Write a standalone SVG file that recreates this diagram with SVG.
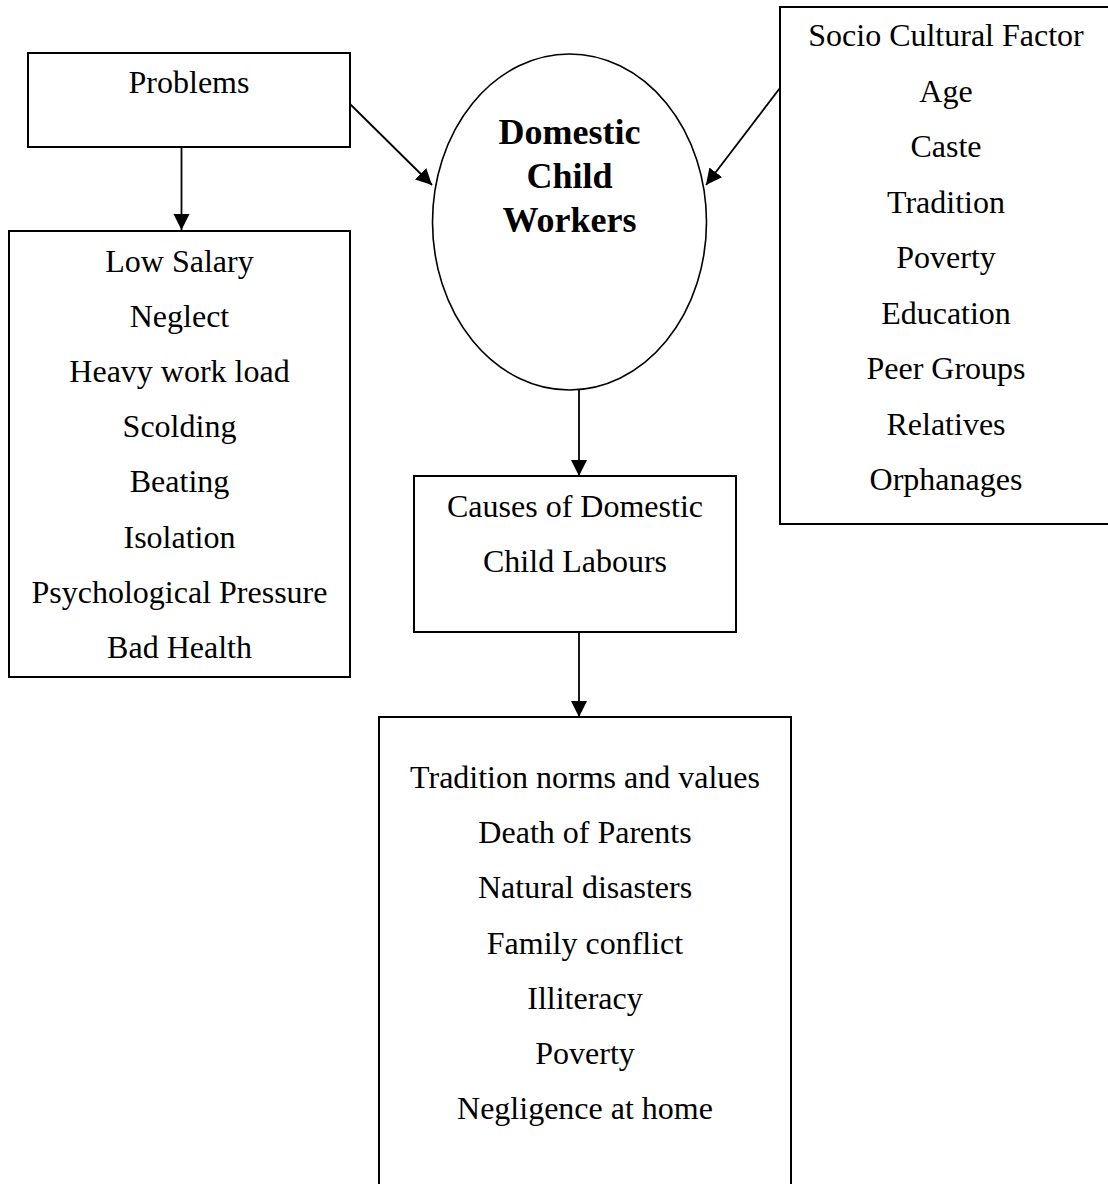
<svg xmlns="http://www.w3.org/2000/svg" width="1108" height="1184" viewBox="0 0 1108 1184">
<style>
.box{fill:#fff;stroke:#000;stroke-width:2}
.t{font-family:"Liberation Serif","Times New Roman",serif;font-size:32px;fill:#000;text-anchor:middle}
.b{font-family:"Liberation Serif","Times New Roman",serif;font-size:36px;font-weight:bold;fill:#000;text-anchor:middle}
.c{stroke:#000;stroke-width:1.8;fill:none;marker-end:url(#ah)}
</style>
<defs>
<marker id="ah" markerUnits="userSpaceOnUse" markerWidth="17" markerHeight="17" refX="16" refY="8" orient="auto">
<path d="M0,0 L16,8 L0,16 z" fill="#000"/>
</marker>
</defs>
<rect width="1108" height="1184" fill="#fff"/>
<g id="problems">
<rect class="box" x="28" y="53" width="322" height="94"/>
<text class="t" x="189" y="93">Problems</text>
</g>
<g id="problem-list">
<rect class="box" x="9" y="231" width="341" height="446"/>
<text class="t" x="179.5" y="271.5">Low Salary</text>
<text class="t" x="179.5" y="326.7">Neglect</text>
<text class="t" x="179.5" y="381.9">Heavy work load</text>
<text class="t" x="179.5" y="437.1">Scolding</text>
<text class="t" x="179.5" y="492.3">Beating</text>
<text class="t" x="179.5" y="547.5">Isolation</text>
<text class="t" x="179.5" y="602.7">Psychological Pressure</text>
<text class="t" x="179.5" y="657.9">Bad Health</text>
</g>
<g id="domestic-child-workers">
<ellipse cx="569.5" cy="222" rx="137" ry="168" fill="#fff" stroke="#000" stroke-width="1.6"/>
<text class="b" x="569.5" y="144">Domestic</text>
<text class="b" x="569.5" y="188">Child</text>
<text class="b" x="569.5" y="232">Workers</text>
</g>
<g id="socio-cultural">
<rect class="box" x="780" y="7" width="400" height="517"/>
<text class="t" x="946" y="46">Socio Cultural Factor</text>
<text class="t" x="946" y="101.5">Age</text>
<text class="t" x="946" y="157">Caste</text>
<text class="t" x="946" y="212.5">Tradition</text>
<text class="t" x="946" y="268">Poverty</text>
<text class="t" x="946" y="323.5">Education</text>
<text class="t" x="946" y="379">Peer Groups</text>
<text class="t" x="946" y="434.5">Relatives</text>
<text class="t" x="946" y="490">Orphanages</text>
</g>
<g id="causes">
<rect class="box" x="414" y="476" width="322" height="156"/>
<text class="t" x="575" y="516.7">Causes of Domestic</text>
<text class="t" x="575" y="571.7">Child Labours</text>
</g>
<g id="cause-list">
<rect class="box" x="379" y="717" width="412" height="520"/>
<text class="t" x="585" y="788">Tradition norms and values</text>
<text class="t" x="585" y="843.2">Death of Parents</text>
<text class="t" x="585" y="898.4">Natural disasters</text>
<text class="t" x="585" y="953.6">Family conflict</text>
<text class="t" x="585" y="1008.8">Illiteracy</text>
<text class="t" x="585" y="1064">Poverty</text>
<text class="t" x="585" y="1119.2">Negligence at home</text>
</g>
<g id="connectors">
<line class="c" x1="181.5" y1="147" x2="181.5" y2="230"/>
<line class="c" x1="350" y1="104" x2="432" y2="185"/>
<line class="c" x1="780" y1="88" x2="706" y2="185"/>
<line class="c" x1="579" y1="390" x2="579" y2="476"/>
<line class="c" x1="579" y1="632" x2="579" y2="717"/>
</g>
</svg>
